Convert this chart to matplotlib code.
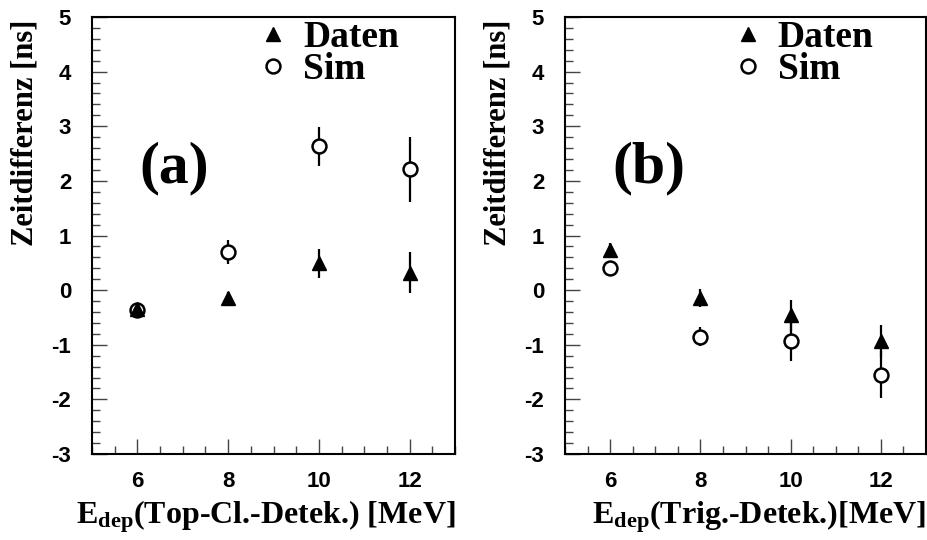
import matplotlib
matplotlib.use("Agg")
import matplotlib.pyplot as plt
from matplotlib.ticker import MultipleLocator

# Energiebins [MeV]
e_dep = [6, 8, 10, 12]

# (a) Top-Cluster-Detektor
a_daten = [-0.35, -0.15, 0.49, 0.32]
a_daten_err = [0.06, 0.12, 0.27, 0.37]
a_sim = [-0.37, 0.69, 2.63, 2.21]
a_sim_err = [0.05, 0.22, 0.35, 0.59]

# (b) Trigger-Detektor
b_daten = [0.73, -0.14, -0.46, -0.93]
b_daten_err = [0.13, 0.16, 0.28, 0.29]
b_sim = [0.41, -0.85, -0.94, -1.55]
b_sim_err = [0.08, 0.17, 0.36, 0.43]

panels = [
    ("(a)", r"$\mathbf{E_{dep}}$(Top-Cl.-Detek.) [MeV]", a_daten, a_daten_err, a_sim, a_sim_err, 0.457),
    ("(b)", r"$\mathbf{E_{dep}}$(Trig.-Detek.)[MeV]", b_daten, b_daten_err, b_sim, b_sim_err, 0.464),
]

serif = ["Liberation Serif", "DejaVu Serif"]
sans = ["Liberation Sans", "DejaVu Sans"]
plt.rcParams["axes.unicode_minus"] = False
plt.rcParams["mathtext.fontset"] = "custom"
plt.rcParams["mathtext.rm"] = "Liberation Serif"
plt.rcParams["mathtext.bf"] = "Liberation Serif:bold"

fig = plt.figure(figsize=(9.27, 5.40), dpi=100)
W, H = 927.0, 540.0
axes = [fig.add_axes([92 / W, 86 / H, 363 / W, 437 / H]),
        fig.add_axes([565 / W, 86 / H, 361 / W, 437 / H])]

for ax, (tag, xlabel, dat, dat_err, sim, sim_err, leg_x) in zip(axes, panels):
    # Sim: offene Kreise, Daten: volle Dreiecke
    ax.errorbar(e_dep, sim, yerr=sim_err, fmt="none", ecolor="black", elinewidth=1.6, zorder=2)
    ax.plot(e_dep, sim, "o", ms=10, mfc="white", mec="black", mew=1.8, zorder=3, label="Sim")
    ax.errorbar(e_dep, dat, yerr=dat_err, fmt="none", ecolor="black", elinewidth=1.6, zorder=4)
    ax.plot(e_dep, dat, "^", ms=10, color="black", zorder=5, label="Daten")

    ax.set_xlim(5, 13)
    ax.set_ylim(-3, 5)
    ax.xaxis.set_major_locator(MultipleLocator(2))
    ax.xaxis.set_minor_locator(MultipleLocator(0.5))
    ax.yaxis.set_major_locator(MultipleLocator(1))
    ax.yaxis.set_minor_locator(MultipleLocator(0.2))
    ax.tick_params(which="both", direction="in", top=False, right=False, color="#444444", width=1.0)
    ax.tick_params(which="major", length=11)
    ax.tick_params(which="minor", length=6)
    ax.tick_params(axis="y", which="major", pad=15)
    ax.tick_params(axis="x", which="major", pad=12)
    for lab in ax.get_xticklabels() + ax.get_yticklabels():
        lab.set_fontfamily(sans)
        lab.set_fontweight("bold")
        lab.set_fontsize(16)
    for sp in ax.spines.values():
        sp.set_linewidth(1.5)

    ax.set_xlabel(xlabel, fontfamily=serif, fontweight="bold", fontsize=23, loc="right")
    ax.xaxis.set_label_coords(1.0, -0.158)
    ax.xaxis.label.set_va("baseline")
    ax.set_ylabel("Zeitdifferenz [ns]", fontfamily=serif, fontweight="bold", fontsize=22, loc="top")
    ax.yaxis.set_label_coords(-0.185, 0.993)
    ax.yaxis.label.set_va("center")

    ax.text(0.13, 0.622, tag, transform=ax.transAxes, fontfamily=serif,
            fontweight="bold", fontsize=43, va="baseline")

    handles, labels = ax.get_legend_handles_labels()
    ax.legend(handles[::-1], labels[::-1], loc="upper left", bbox_to_anchor=(leg_x, 0.993),
              frameon=False, prop={"family": serif, "weight": "bold", "size": 27},
              handlelength=0.8, handletextpad=0.4, labelspacing=-0.09, borderpad=0.0,
              borderaxespad=0.0)

fig.savefig("out.png", dpi=100)
